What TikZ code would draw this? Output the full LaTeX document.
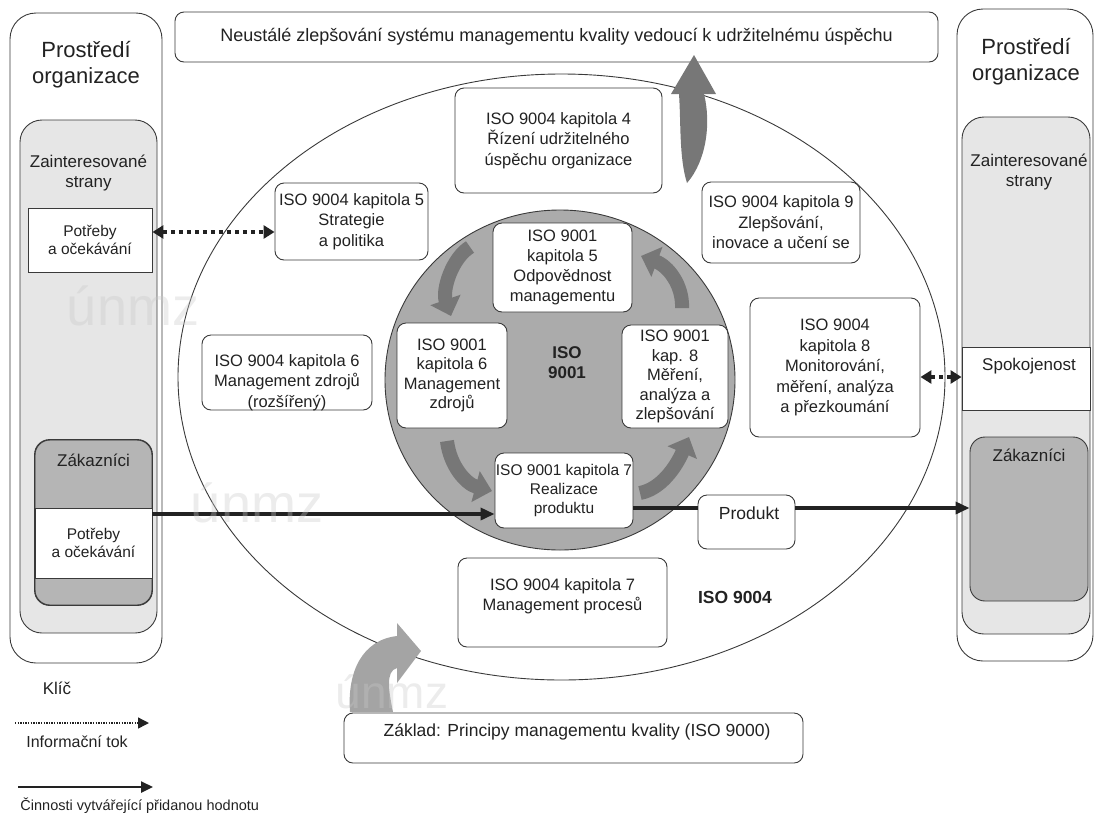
\documentclass[tikz,border=0pt]{standalone}
\usepackage{fontspec}
\setmainfont{Liberation Sans}
\usetikzlibrary{arrows.meta,calc,shapes.geometric}
\definecolor{panelgray}{HTML}{E6E6E6}
\definecolor{zakgray}{HTML}{B5B5B5}
\definecolor{circgray}{HTML}{ABABAB}
\definecolor{arrowgray}{HTML}{777777}
\definecolor{lightarrow}{HTML}{A4A4A4}
\definecolor{edge}{HTML}{3A3A3A}
\definecolor{ink}{HTML}{222222}
\definecolor{wmark}{HTML}{C8C8C8}
\begin{document}
\begin{tikzpicture}[x=1pt,y=-1pt,line width=0.9pt,draw=edge,
  txt/.style={align=center,text=ink,inner sep=0pt,font=\fontsize{16.5}{20.5}\selectfont},
  box/.style={draw=edge,fill=white,rounded corners=9pt,inner sep=0pt,txt},
  panel/.style={draw=edge,rounded corners=26pt,inner sep=0pt},
  inpanel/.style={draw=edge,fill=panelgray,rounded corners=22pt,inner sep=0pt},
  zak/.style={draw=edge,fill=zakgray,rounded corners=15pt,inner sep=0pt},
  band/.style={draw=edge,fill=white,inner sep=0pt,txt},
  title/.style={txt,font=\fontsize{22}{25.5}\selectfont},
  info/.style={line width=3.4pt,draw=ink,dash pattern=on 4.5pt off 3.5pt,
     {Triangle[length=11pt,width=13pt]}-{Triangle[length=11pt,width=13pt]}},
  value/.style={line width=3.4pt,draw=ink,-{Triangle[length=14pt,width=12pt]}},
  cyc/.style={draw=arrowgray,line width=14pt,-{Triangle[length=17pt,width=31pt]}},
  wm/.style={text=wmark,opacity=0.35,font=\fontsize{54}{54}\selectfont,inner sep=0pt}
]
\useasboundingbox (0,0) rectangle (1095,812);

% ---------- left environment panel ----------
\node[panel,minimum width=152pt,minimum height=650pt] (lout) at (86,338) {};
\node[title] (ltitle) at (86,64.5) {Prostředí\\organizace};
\node[inpanel,minimum width=137pt,minimum height=513pt] (lin) at (88.5,376.5) {};
\node[txt,font=\fontsize{17}{20}\selectfont] (lzs) at (88.5,172.5) {Zainteresované\\strany};
\node[band,minimum width=124pt,minimum height=64pt,font=\fontsize{15.5}{18.5}\selectfont] (lneed) at (90,240) {Potřeby\\a očekávání};
\node[zak,minimum width=117pt,minimum height=165pt] (lzak) at (93.5,522.5) {};
\node[band,minimum width=117pt,minimum height=70pt,font=\fontsize{15.5}{18.5}\selectfont] (lzneed) at (93.5,543) {Potřeby\\a očekávání};
\draw[draw=edge,rounded corners=15pt] (lzak.north west) rectangle (lzak.south east);
\node[txt,font=\fontsize{17}{20}\selectfont] (lzt) at (93.5,460) {Zákazníci};

% ---------- right environment panel ----------
\node[panel,minimum width=136pt,minimum height=652pt] (rout) at (1025,335) {};
\node[title] (rtitle) at (1026,61.5) {Prostředí\\organizace};
\node[inpanel,minimum width=128pt,minimum height=517pt] (rin) at (1026,375.5) {};
\node[txt,font=\fontsize{17}{20}\selectfont] (rzs) at (1029,171.5) {Zainteresované\\strany};
\node[band,minimum width=128pt,minimum height=63pt] (spok) at (1026,378.5) {};
\node[txt,font=\fontsize{17}{20}\selectfont] (spokt) at (1029,366) {Spokojenost};
\node[zak,minimum width=118pt,minimum height=164pt] (rzak) at (1029,519) {};
\node[txt,font=\fontsize{17}{20}\selectfont] (rzt) at (1029,455) {Zákazníci};

% ---------- top and bottom boxes ----------
\node[box,minimum width=763pt,minimum height=50pt,font=\fontsize{18}{20}\selectfont] (top) at (556.5,37) {Neustálé zlepšování systému managementu kvality vedoucí k udržitelnému úspěchu};
\node[box,minimum width=459pt,minimum height=50pt] (zaklad) at (573.5,738) {};
\node[txt,font=\fontsize{17.5}{20}\selectfont] (zakladt) at (577,732) {Základ: Principy managementu kvality (ISO 9000)};

% ---------- ISO 9004 ellipse ----------
\node[draw=edge,ellipse,inner sep=0pt,minimum width=767pt,minimum height=606pt] (e9004) at (561.5,377) {};

% big upward arrow
\fill[arrowgray] (687,183) .. controls (707,160) and (711,122) .. (704,94) -- (716,94) -- (694,55)
   -- (671,94) -- (679,94) .. controls (681,122) and (679,158) .. (687,183) -- cycle;
% bottom left arrow
\fill[lightarrow] (350,712) .. controls (347,672) and (362,640) .. (397,636) -- (397,623) -- (421,651)
   -- (397,683) -- (397,668) .. controls (385,671) and (389,692) .. (393,712) -- cycle;

% ISO 9004 boxes
\node[box,minimum width=207pt,minimum height=105pt] (k4) at (558.5,140.5) {ISO 9004 kapitola 4\\Řízení udržitelného\\úspěchu organizace};
\node[box,minimum width=153pt,minimum height=77pt] (k5) at (351.5,221.5) {ISO 9004 kapitola 5\\Strategie\\a politika};
\node[box,minimum width=158pt,minimum height=81pt] (k9) at (781,222.5) {ISO 9004 kapitola 9\\Zlepšování,\\inovace a učení se};
\node[box,minimum width=170pt,minimum height=75pt] (k6) at (287,372.5) {};
\node[txt] (k6t) at (287,382.5) {ISO 9004 kapitola 6\\Management zdrojů\\(rozšířený)};
\node[box,minimum width=170pt,minimum height=139pt] (k8) at (835,367.5) {ISO 9004\\kapitola 8\\Monitorování,\\měření, analýza\\a přezkoumání};
\node[box,minimum width=209pt,minimum height=89pt] (k7) at (562.5,602.5) {};
\node[txt] (k7t) at (562.5,596) {ISO 9004 kapitola 7\\Management procesů};
\node[box,minimum width=97pt,minimum height=54pt] (prod) at (746.5,522) {};
\node[txt,font=\fontsize{17.5}{20}\selectfont] (prodt) at (749,513) {Produkt};
\node[txt,font=\bfseries\fontsize{17.5}{20}\selectfont] (iso9004) at (735,597) {ISO 9004};

% ---------- ISO 9001 circle ----------
\node[draw=edge,fill=circgray,ellipse,inner sep=0pt,minimum width=350pt,minimum height=340pt] (c9001) at (560,380) {};
\node[txt,font=\bfseries\fontsize{17}{20}\selectfont] (iso9001) at (567,363) {ISO\\9001};

% cycle arrows
\coordinate (c1a) at (470,247); \coordinate (c1b) at (451,316);
\coordinate (c2a) at (682,308); \coordinate (c2b) at (641,256);
\coordinate (c3a) at (447,441); \coordinate (c3b) at (492,491);
\coordinate (c4a) at (640,493); \coordinate (c4b) at (689,437);
\draw[cyc] (c1a) .. controls (452,258) and (442,290) .. (c1b);
\draw[cyc] (c2a) .. controls (683,285) and (668,266) .. (c2b);
\draw[cyc] (c3a) .. controls (450,466) and (466,484) .. (c3b);
\draw[cyc] (c4a) .. controls (661,489) and (676,467) .. (c4b);

\node[box,minimum width=139pt,minimum height=89pt,font=\fontsize{16.5}{20}\selectfont] (a5) at (562.5,267.5) {ISO 9001\\kapitola 5\\Odpovědnost\\managementu};
\node[box,minimum width=110pt,minimum height=105pt,font=\fontsize{16.5}{19.5}\selectfont] (a6) at (452,375.5) {ISO 9001\\kapitola 6\\Management\\zdrojů};
\node[box,minimum width=106pt,minimum height=103pt,font=\fontsize{16.5}{19.5}\selectfont] (a8) at (675,376.5) {ISO 9001\\kap. 8\\Měření,\\analýza a\\zlepšování};
\node[box,minimum width=138pt,minimum height=75pt,font=\fontsize{15.5}{19}\selectfont] (a7) at (564,490.5) {ISO 9001 kapitola 7\\Realizace\\produktu};

% ---------- connectors ----------
\coordinate (yinfo) at (0,232);
\coordinate (ysat) at (0,377);
\coordinate (yin) at (0,514);
\coordinate (yout) at (0,508);
\draw[info] (lneed.east |- yinfo) -- (k5.west |- yinfo);
\draw[info] (k8.east |- ysat) -- (spok.west |- ysat);
\draw[value] (lzneed.east |- yin) -- (a7.west |- yin);
\draw[line width=3.4pt,draw=ink] (a7.east |- yout) -- (prod.west |- yout);
\draw[value] (prod.east |- yout) -- (rzak.west |- yout);

% ---------- key ----------
\node[txt,font=\fontsize{17}{20}\selectfont] (klic) at (57,688) {Klíč};
\coordinate (ka1) at (15,723); \coordinate (ka2) at (149,723);
\draw[line width=1.4pt,draw=ink,dash pattern=on 1.3pt off 1.3pt,-{Triangle[length=11pt,width=11pt]}] (ka1) -- (ka2);
\node[txt,font=\fontsize{16}{19}\selectfont] (kinf) at (77,742) {Informační tok};
\coordinate (kb1) at (18,787); \coordinate (kb2) at (153,787);
\draw[line width=2.4pt,draw=ink,-{Triangle[length=12pt,width=11pt]}] (kb1) -- (kb2);
\node[txt,anchor=west,font=\fontsize{14.5}{17}\selectfont] (kval) at (20,806) {Činnosti vytvářející přidanou hodnotu};

% ---------- watermarks ----------
\node[wm] (wm1) at (133,306) {únmz};
\node[wm] (wm2) at (257,503) {únmz};
\node[wm,font=\fontsize{46}{46}\selectfont] (wm3) at (392,692) {únmz};
\end{tikzpicture}
\end{document}
